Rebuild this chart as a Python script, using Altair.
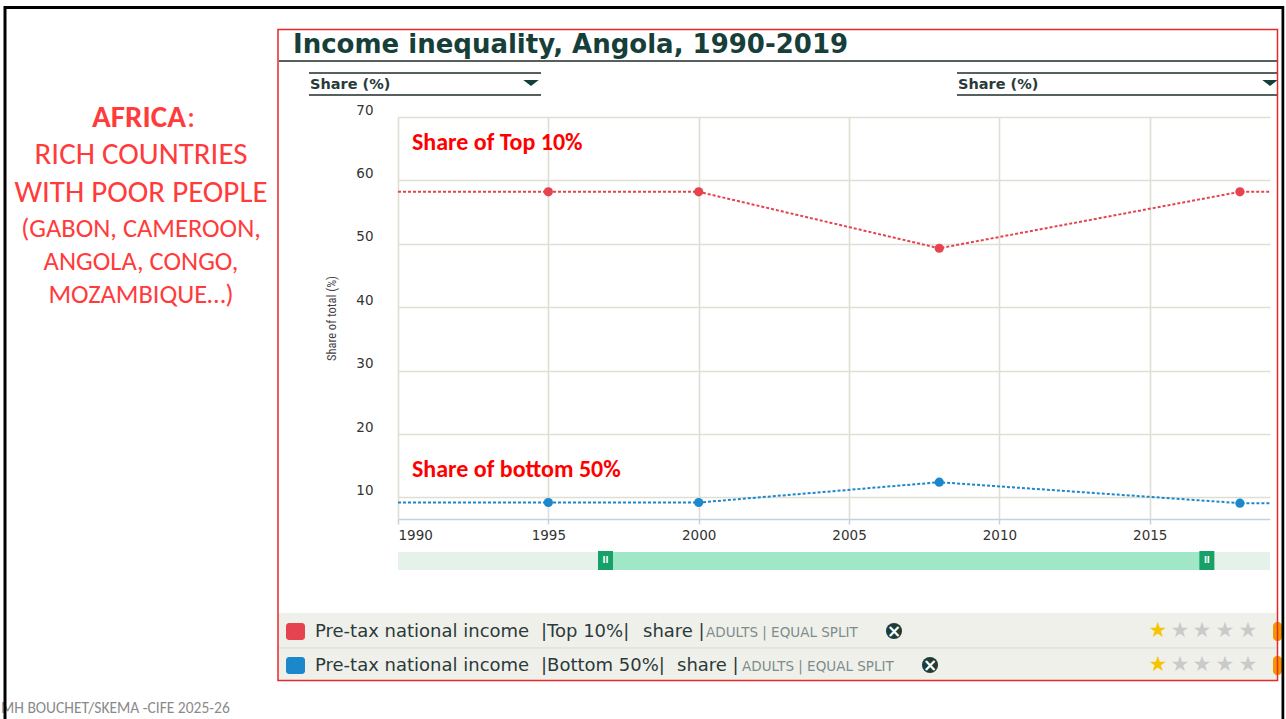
import altair as alt
import pandas as pd

# ---------------- data ----------------
years = [1990, 1995, 2000, 2008, 2018, 2019]
top10 = [58.2, 58.2, 58.2, 49.3, 58.2, 58.2]
bottom50 = [9.2, 9.2, 9.2, 12.4, 9.1, 9.1]
marker_years = [1995, 2000, 2008, 2018]
top10_markers = [58.2, 58.2, 49.3, 58.2]
bottom50_markers = [9.2, 9.2, 12.4, 9.1]
series = ["Top 10%", "Bottom 50%"]
colors = ["#e5434f", "#1b88cc"]
x_ticks = [1990, 1995, 2000, 2005, 2010, 2015]
y_ticks = [10, 20, 30, 40, 50, 60, 70]
slider_range = [1996.9, 2016.9]

# ---------------- layout ----------------
PL, PT = 398, 117
W, H = 872, 402
TOTAL_W, TOTAL_H = 1286, 719

line_df = pd.DataFrame({
    "year": years + years,
    "value": top10 + bottom50,
    "series": [series[0]] * len(years) + [series[1]] * len(years),
})
mark_df = pd.DataFrame({
    "year": marker_years + marker_years,
    "value": top10_markers + bottom50_markers,
    "series": [series[0]] * len(marker_years) + [series[1]] * len(marker_years),
})
slider_df = pd.DataFrame({"start": [slider_range[0]], "end": [slider_range[1]]})
handle_df = pd.DataFrame({"pos": slider_range})

one = pd.DataFrame({"k": [0]})

xscale = alt.Scale(domain=[1990, 2019], nice=False, zero=False)
yscale = alt.Scale(domain=[6.6, 70], nice=False, zero=False)
cscale = alt.Scale(domain=series, range=colors)


def txt(px, py, s, size, color, weight="normal", font="Lato", align="left",
        baseline="middle", angle=0):
    return alt.Chart(one).mark_text(
        text=s, fontSize=size, color=color, fontWeight=weight, font=font,
        align=align, baseline=baseline, angle=angle,
    ).encode(x=alt.value(px - PL), y=alt.value(py - PT))


def rect(x1, y1, x2, y2, fill="transparent", stroke="transparent", sw=0, r=0):
    return alt.Chart(one).mark_rect(
        fill=fill, stroke=stroke, strokeWidth=sw, cornerRadius=r
    ).encode(x=alt.value(x1 - PL), x2=alt.value(x2 - PL),
             y=alt.value(y1 - PT), y2=alt.value(y2 - PT))


def hline(x1, x2, y, color, sw=1.0):
    return alt.Chart(one).mark_rule(color=color, strokeWidth=sw).encode(
        x=alt.value(x1 - PL), x2=alt.value(x2 - PL), y=alt.value(y - PT))


def pt(px, py, shape, size, color):
    return alt.Chart(one).mark_point(
        shape=shape, size=size, filled=True, color=color, opacity=1
    ).encode(x=alt.value(px - PL), y=alt.value(py - PT))


layers = []

# legend rows background
layers.append(rect(278, 613, 1277, 680, fill="#f0f0eb"))
layers.append(hline(278, 1277, 648, "#d9d9d2", 1))

# main data
base_line = alt.Chart(line_df).mark_line(strokeDash=[3, 2], strokeWidth=2).encode(
    x=alt.X("year:Q", scale=xscale, axis=alt.Axis(
        values=x_ticks, format="d", title=None, grid=True,
        gridColor="#dedfd4", gridWidth=1.6,
        domainColor="#c3d2e2", domainWidth=1.6,
        tickColor="#c3d2e2", tickSize=5, tickWidth=1.5,
        labelFont="DejaVu Sans", labelFontSize=13.5, labelColor="#333333",
        labelPadding=4)),
    y=alt.Y("value:Q", scale=yscale, axis=alt.Axis(
        values=y_ticks, title="Share of total (%)", grid=True,
        gridColor="#dedfd4", gridWidth=1.6, domain=False, ticks=False,
        labelFont="DejaVu Sans", labelFontSize=13.5, labelColor="#333333",
        labelPadding=25, labelOffset=-7, labelAlign="right",
        titleFont="Roboto Condensed, Roboto", titleFontSize=12.5,
        titleFontWeight="normal", titleColor="#444444",
        titleAngle=270, titleX=331 - PL, titleY=318 - PT,
        titleAlign="center", titleBaseline="middle")),
    color=alt.Color("series:N", scale=cscale, legend=None),
    detail="series:N",
)
layers.append(base_line)

points = alt.Chart(mark_df).mark_point(filled=True, size=85, opacity=1).encode(
    x=alt.X("year:Q", scale=xscale),
    y=alt.Y("value:Q", scale=yscale),
    color=alt.Color("series:N", scale=cscale, legend=None),
)
layers.append(points)

# slider under the x axis (driven by the x scale)
layers.append(rect(398, 552, 1270, 570, fill="#e4f2ea"))
slider = alt.Chart(slider_df).mark_rect(color="#a0e7c7").encode(
    x=alt.X("start:Q", scale=xscale), x2="end:Q",
    y=alt.value(552 - PT), y2=alt.value(570 - PT))
layers.append(slider)
handles = alt.Chart(handle_df).mark_rect(
    color="#17a068", xOffset=-7.5, x2Offset=7.5
).encode(
    x=alt.X("pos:Q", scale=xscale), x2="pos:Q",
    y=alt.value(551 - PT), y2=alt.value(570 - PT))
layers.append(handles)
handle_txt = alt.Chart(handle_df).mark_text(
    text="II", color="white", fontSize=8, font="DejaVu Sans", fontWeight="bold"
).encode(x=alt.X("pos:Q", scale=xscale), y=alt.value(561 - PT))
layers.append(handle_txt)

# annotations inside the plot
layers.append(txt(412, 143, "Share of Top 10%", 24, "#ff0000", "bold", "Carlito, Lato"))
layers.append(txt(412, 470, "Share of bottom 50%", 24, "#ff0000", "bold", "Carlito, Lato"))

# title and controls
TITLE_C = "#173f3a"
layers.append(txt(293, 45, "Income inequality, Angola, 1990-2019", 26, TITLE_C,
                  "bold", "DejaVu Sans"))
layers.append(hline(279, 1277, 61, "#1d2b2a", 1.5))
for (a, b) in [(309, 541), (957, 1277)]:
    layers.append(hline(a, b, 73, "#1d2b2a", 1.3))
    layers.append(hline(a, b, 95, "#1d2b2a", 1.3))
    layers.append(txt(a + 1, 85, "Share (%)", 14.5, "#2a3a3a", 600, "DejaVu Sans"))
TRI = "M-1,-0.4L1,-0.4L0,0.4Z"
layers.append(pt(531, 83, TRI, 240, TITLE_C))
layers.append(pt(1270, 83, TRI, 240, TITLE_C))

# legend rows
LEG = "#2b3a3a"
GREY = "#7d8c8c"
rows = [
    (631, colors[0], "|Top 10%|", 643, "share |", 706, 894),
    (665, colors[1], "|Bottom 50%|", 677, "share |", 742, 930),
]
for (yy, col, grp, sx, share, ax, xx) in rows:
    layers.append(rect(286, yy - 8, 305, yy + 9, fill=col, r=3))
    layers.append(txt(315, yy + 1, "Pre-tax national income", 18, LEG, "normal", "DejaVu Sans"))
    layers.append(txt(541, yy + 1, grp, 18, LEG, "normal", "DejaVu Sans"))
    layers.append(txt(sx, yy + 1, share, 18, LEG, "normal", "DejaVu Sans"))
    layers.append(txt(ax, yy + 2, "ADULTS | EQUAL SPLIT", 13.5, GREY, "normal", "DejaVu Sans"))
    layers.append(pt(xx, yy, "circle", 260, "#1e3d38"))
    layers.append(txt(xx, yy + 1, "×", 17, "white", "bold", "DejaVu Sans", align="center"))
    layers.append(txt(1158, yy, "★", 21, "#f7c400", "normal", "DejaVu Sans", align="center"))
    for sxx in [1180, 1202, 1225, 1248]:
        layers.append(txt(sxx, yy, "★", 21, "#cacaca", "normal", "DejaVu Sans", align="center"))
    layers.append(rect(1273, yy - 9, 1282, yy + 10, fill="#f59500", r=4))

# slide text on the left
RED = "#ff3b3b"
layers.append(txt(186, 118, "AFRICA", 31, RED, "bold", "Carlito, Lato", align="right"))
layers.append(txt(187, 118, ":", 31, RED, "normal", "Carlito, Lato"))
layers.append(txt(141, 155, "RICH COUNTRIES", 31, RED, "normal", "Carlito, Lato", align="center"))
layers.append(txt(141, 193, "WITH POOR PEOPLE", 31, RED, "normal", "Carlito, Lato", align="center"))
layers.append(txt(141, 229, "(GABON, CAMEROON,", 26.5, RED, "normal", "Carlito, Lato", align="center"))
layers.append(txt(141, 262, "ANGOLA, CONGO,", 26.5, RED, "normal", "Carlito, Lato", align="center"))
layers.append(txt(141, 295, "MOZAMBIQUE…)", 26.5, RED, "normal", "Carlito, Lato", align="center"))
layers.append(txt(1, 708, "MH BOUCHET/SKEMA -CIFE 2025-26", 15.5, "#8a8a8a", "normal", "Carlito, Lato"))

# frames
layers.append(rect(278, 29.5, 1277.5, 680.5, stroke="#e52a2a", sw=1.5))
layers.append(rect(5, 7.5, 1283, 760, stroke="#000000", sw=3))
layers.append(rect(1284.5, 0, 1290, 719, fill="white"))

chart = alt.layer(*layers).properties(
    width=W, height=H,
    padding={"left": PL, "top": PT, "right": TOTAL_W - PL - W, "bottom": TOTAL_H - PT - H},
    autosize=alt.AutoSizeParams(type="none"),
    background="white",
).configure_view(strokeWidth=0)

chart.save("out.html", embed_options={"renderer": "svg", "actions": False})
